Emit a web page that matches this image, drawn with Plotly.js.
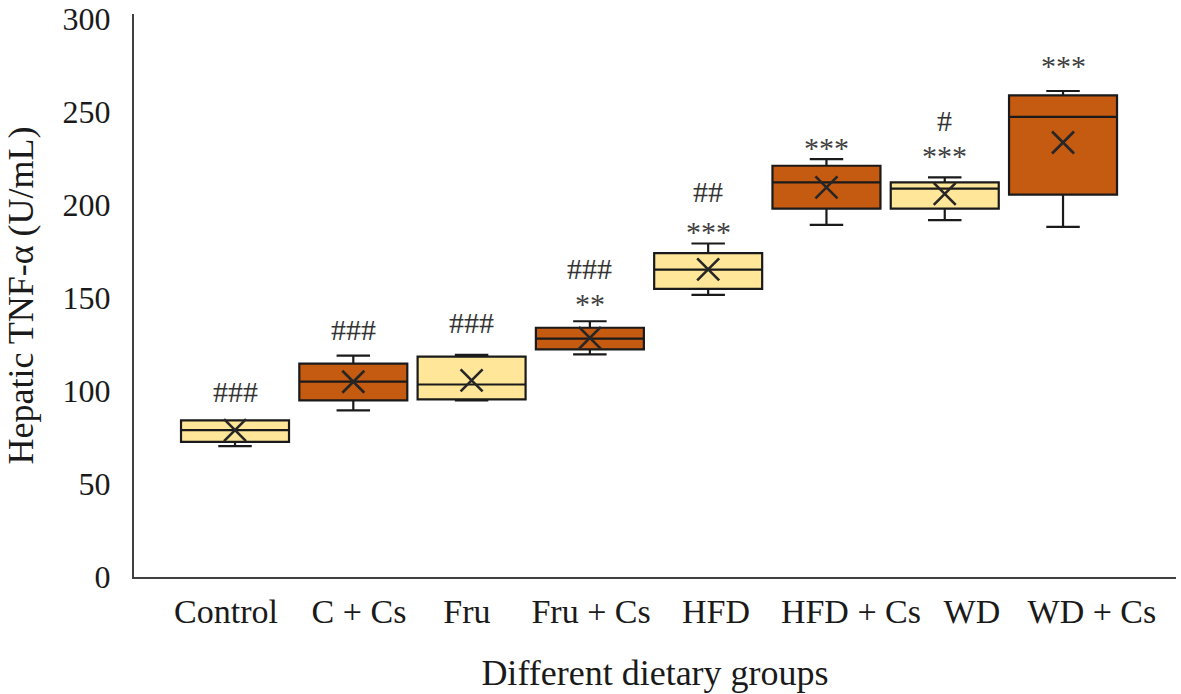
<!DOCTYPE html>
<html>
<head>
<meta charset="utf-8">
<script src="https://cdn.plot.ly/plotly-3.0.1.min.js"></script>
<style>html,body{margin:0;padding:0;background:#fff;}#chart{width:1181px;height:694px;}</style>
</head>
<body>
<div id="chart"></div>
<script>
// ---- data ----
const groups     = ['Control', 'C + Cs', 'Fru', 'Fru + Cs', 'HFD', 'HFD + Cs', 'WD', 'WD + Cs'];
const lowerWhisk = [70.4, 89.6, 95.0, 119.7, 151.7, 189.3, 191.9, 188.2];
const q1Values   = [72.6, 95.0, 95.5, 122.4, 154.9, 198.1, 198.1, 205.6];
const medians    = [79.0, 105.0, 103.5, 128.2, 165.3, 212.2, 208.8, 247.4];
const q3Values   = [84.2, 114.7, 118.5, 134.0, 174.1, 221.1, 212.2, 259.0];
const upperWhisk = [84.2, 119.0, 119.5, 137.5, 179.3, 224.7, 214.9, 261.3];
const means      = [79.0, 105.0, 105.7, 128.6, 165.4, 209.5, 206.0, 233.6];
const hashLabels = ['###', '###', '###', '###', '##', '', '#', ''];
const hashY      = [99.8, 132.9, 137.1, 166.0, 207.4, null, 245.5, null];
const starLabels = ['', '', '', '**', '***', '***', '***', '***'];
const starY      = [null, null, null, 150.5, 189.2, 234.4, 230.0, 278.5];
const yTicks     = [0, 50, 100, 150, 200, 250, 300];

// ---- styling ----
const FONT = '"Liberation Serif", "Times New Roman", serif';
const YELLOW = '#FFE699', ORANGE = '#C55A11';
const fills = groups.map((g, i) => (i % 2 === 0 ? YELLOW : ORANGE));
const labelPos = [0.924, 2.048, 2.961, 4.010, 5.066, 6.207, 7.230, 8.244];

const traces = groups.map((g, i) => ({
  type: 'box',
  name: g,
  x: [i + 1],
  q1: [q1Values[i]],
  median: [medians[i]],
  q3: [q3Values[i]],
  lowerfence: [lowerWhisk[i]],
  upperfence: [upperWhisk[i]],
  width: 0.913,
  whiskerwidth: 0.31,
  fillcolor: fills[i],
  line: {color: '#1a1a1a', width: 2.2},
  boxpoints: false,
  hoverinfo: 'skip',
  showlegend: false
}));

traces.push({
  type: 'scatter',
  mode: 'markers',
  x: groups.map((g, i) => i + 1),
  y: means,
  marker: {symbol: 'x-thin-open', size: 22, line: {color: '#262626', width: 2.6}, color: '#262626'},
  hoverinfo: 'skip',
  showlegend: false
});

const annotations = [];
groups.forEach((g, i) => {
  if (hashLabels[i]) annotations.push({
    x: i + 1, y: hashY[i], xref: 'x', yref: 'y', text: hashLabels[i], showarrow: false,
    xanchor: 'center', yanchor: 'middle', font: {family: FONT, size: 30, color: '#333333'}
  });
  if (starLabels[i]) annotations.push({
    x: i + 1, y: starY[i], xref: 'x', yref: 'y', text: starLabels[i], showarrow: false,
    xanchor: 'center', yanchor: 'middle', yshift: -6, font: {family: FONT, size: 30, color: '#404040'}
  });
});

const layout = {
  width: 1181, height: 694,
  margin: {l: 134, r: 5, t: 14, b: 117, pad: 0},
  paper_bgcolor: '#ffffff', plot_bgcolor: '#ffffff',
  font: {family: FONT, size: 34, color: '#1a1a1a'},
  showlegend: false,
  boxmode: 'overlay',
  xaxis: {
    range: [0.146, 8.955],
    tickvals: labelPos, ticktext: groups,
    showgrid: false, zeroline: false, showline: true, linecolor: '#404040', linewidth: 2,
    ticks: '', ticklabelstandoff: 3,
    tickfont: {family: FONT, size: 34, color: '#1a1a1a'},
    title: {text: 'Different dietary groups', font: {family: FONT, size: 36, color: '#1a1a1a'}, standoff: 31}
  },
  yaxis: {
    range: [0, 302.7],
    tickvals: yTicks,
    showgrid: false, zeroline: false, showline: true, linecolor: '#404040', linewidth: 2,
    ticks: '', ticklabelstandoff: 15,
    tickfont: {family: FONT, size: 32, color: '#1a1a1a'},
    title: {text: 'Hepatic TNF-α (U/mL)', font: {family: FONT, size: 36, color: '#1a1a1a'}, standoff: 18}
  },
  annotations: annotations
};

Plotly.newPlot('chart', traces, layout, {displayModeBar: false, staticPlot: true});
</script>
</body>
</html>
